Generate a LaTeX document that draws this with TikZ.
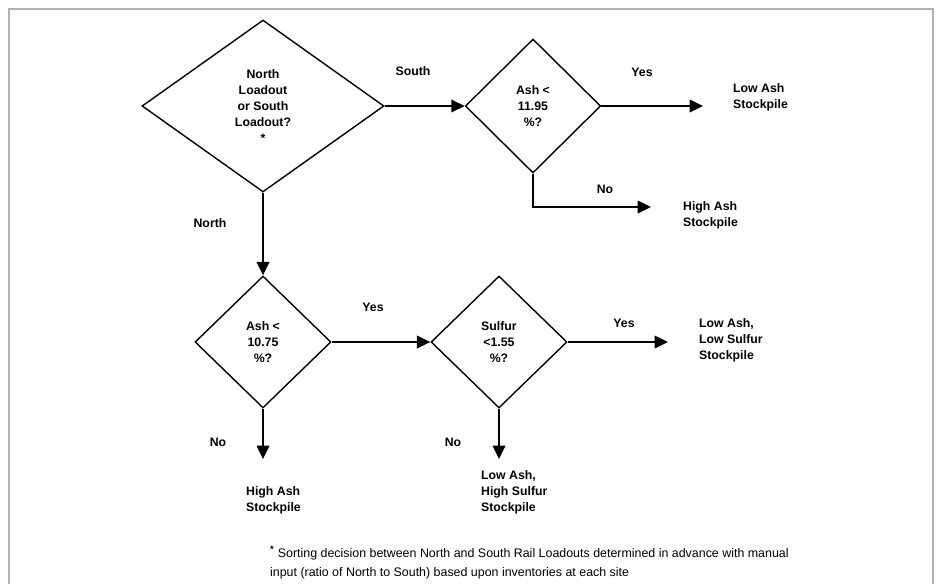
\documentclass[tikz,border=0pt]{standalone}
\usepackage{fontspec}
\setmainfont{Liberation Sans}
\usepackage{tikz}
\usetikzlibrary{shapes.geometric,arrows.meta}

\begin{document}
\begin{tikzpicture}[x=0.3mm,y=-0.3mm,
   decision/.style={diamond,draw,line width=1.2pt,inner sep=0pt,align=center},
   stock/.style={anchor=west,align=left},
   every node/.style={font=\bfseries\fontsize{10.5}{13.6}\selectfont},
   flow/.style={line width=1.2pt,-{Triangle[length=4mm,width=3.8mm]}}]
   \useasboundingbox (0,0) rectangle (937,584);
   \draw[gray!60,line width=0.6mm] (9,584) -- (9,9) -- (933,9) -- (933,584);
   \node[decision,minimum width=72.6mm,minimum height=51.6mm] (loadout) at (263,106) {North\\Loadout\\or South\\Loadout?\\*};
   \node[decision,minimum width=40.6mm,minimum height=40.2mm] (ashsouth) at (533,106) {Ash <\\11.95\\ \%?};
   \node[decision,minimum width=40.8mm,minimum height=39.6mm] (ashnorth) at (263,342) {Ash <\\10.75\\ \%?};
   \node[decision,minimum width=40.8mm,minimum height=39.6mm] (sulfur) at (499,342) {Sulfur\\<1.55\\ \%?};
   \node[stock] (lowash) at (729,97) {Low Ash\\Stockpile};
   \node[stock] (highashs) at (679,215) {High Ash\\Stockpile};
   \node[stock] (lowlow) at (695,340) {Low Ash,\\Low Sulfur\\Stockpile};
   \node[stock] (highashn) at (242,500) {High Ash\\Stockpile};
   \node[stock] (lowhigh) at (477,492) {Low Ash,\\High Sulfur\\Stockpile};
   \coordinate (lowashend) at (703,106);
   \coordinate (highbend) at (533,207);
   \coordinate (highashsend) at (651,207);
   \coordinate (lowlowend) at (668,342);
   \coordinate (highashnend) at (263,459);
   \coordinate (lowhighend) at (499,459);
   \draw[flow] (loadout.east) -- (ashsouth.west);
   \draw[flow] (ashsouth.east) -- (lowashend);
   \draw[flow] (ashsouth.south) -- (highbend) -- (highashsend);
   \draw[flow] (loadout.south) -- (ashnorth.north);
   \draw[flow] (ashnorth.east) -- (sulfur.west);
   \draw[flow] (sulfur.east) -- (lowlowend);
   \draw[flow] (ashnorth.south) -- (highashnend);
   \draw[flow] (sulfur.south) -- (lowhighend);
   \node (south) at (413,71) {South};
   \node (yes1) at (642,72) {Yes};
   \node (no1) at (605,189) {No};
   \node (north) at (210,223) {North};
   \node (yes2) at (373,307) {Yes};
   \node (yes3) at (624,323) {Yes};
   \node (no2) at (218,442) {No};
   \node (no3) at (453,442) {No};
   \node[anchor=north west,align=left,font=\fontsize{10.6}{16}\selectfont] (note) at (266,542) {\textbf{\large\textsuperscript{*}} Sorting decision between North and South Rail Loadouts determined in advance with manual\\input (ratio of North to South) based upon inventories at each site};
\end{tikzpicture}
\end{document}
